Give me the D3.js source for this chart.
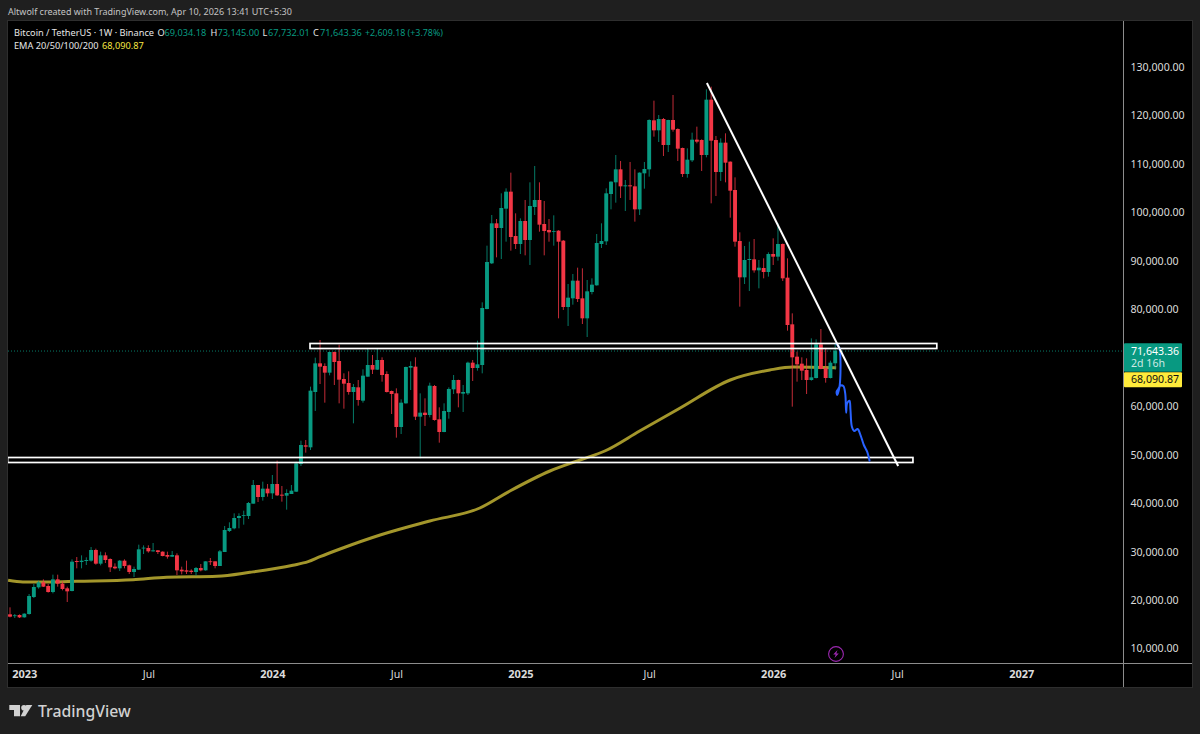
<!DOCTYPE html>
<html><head><meta charset="utf-8">
<script src="https://cdn.jsdelivr.net/npm/d3@7"></script>
<style>html,body{margin:0;padding:0;background:#1f1f1f;overflow:hidden}svg{display:block}text{font-family:"Noto Sans",sans-serif}</style>
</head><body><svg id="c" width="1200" height="734"></svg>
<script>
const opens=[17217,16873,17079,16597,17286,20794,22789,23821,23065,21826,24441,23546,22583,22033,28225,28018,28225,28293,30495,27674,29394,28637,27055,26711,28293,27330,25954,26436,30839,30908,30220,30426,30151,29463,29119,29394,26436,26298,26229,25954,26780,26298,28156,28156,27193,30082,34417,34967,37100,37581,37513,40058,43911,41434,43154,42191,44117,41916,41709,42053,42535,48245,52098,51685,63106,69023,68473,67097,71362,69505,65789,64964,63106,64069,61317,66271,68679,67716,69711,66821,63313,62831,55882,60767,68129,68335,58015,58841,58359,64345,57465,54850,58978,63657,65583,62762,62831,69161,68060,68679,80237,89663,97919,96956,100946,104455,95305,93653,98401,94479,101290,102735,97781,96543,96199,96405,94341,80650,82439,86085,82439,78311,83746,85122,93653,94204,103973,106381,109065,105556,105762,105556,100809,108239,109065,119178,117114,119453,114087,119247,117389,113468,108101,110922,115188,115119,112023,123444,115119,108514,114569,110647,104799,94273,86773,90351,90489,88218,88700,87874,91589,91039,93653,86704,77073,70399,68954,67647,65583,65996,72945,67991,65996,69034.18];
const highs=[18661,17286,17217,17423,21413,23477,24165,24441,23477,25404,25404,24028,22927,28569,29050,29394,28981,31114,30770,30151,30013,28775,27743,28431,28569,27468,27055,31596,31458,31458,31940,30495,30220,30151,30289,29807,27055,28293,26505,26986,27605,28156,28844,28156,30495,35449,36205,38063,38063,38613,40402,44943,43911,44599,44117,45975,48933,43705,43017,43911,48727,53061,53199,64207,70193,73839,69023,71450,71450,72876,66959,67372,64757,65583,67785,72188,70743,72119,70261,67372,63400,63863,61593,68350,69436,70261,62831,61799,65033,64551,59941,60767,64069,66615,65650,64551,69367,69711,73701,81613,93309,99639,98813,104111,105143,108377,99983,98951,102735,106381,109753,106381,102529,98813,99570,96500,94479,85397,87461,88769,88631,86223,86567,95717,97919,105143,106600,112023,110785,106863,110578,109065,108450,110578,119385,123237,120279,119660,119300,124407,117527,113550,113399,116633,117871,115257,125577,126127,115945,115463,116495,110700,107413,96061,93241,94135,94685,90351,90695,91933,94823,97919,93750,90695,79343,71431,70261,70055,74183,73977,76109,72119,69574,73145];
const lows=[16597,16460,16460,16529,17148,20588,22514,22858,21689,21551,22927,22170,19762,21964,26711,26711,27399,28087,27468,27330,27812,25954,26505,26161,26711,25541,24922,26367,29669,29945,30151,29669,29188,28706,29050,25335,25473,25541,25541,25197,26092,26229,27399,26711,27193,30082,34210,34761,34967,35724,36893,40058,40402,40677,41503,41021,41641,40471,38820,42053,42466,47833,50585,51135,59185,64757,60905,66546,64551,60767,59666,62556,56639,60285,60905,66271,66821,67647,65239,63000,58565,53681,54437,60700,63519,57327,49415,56089,57877,57189,52649,54800,57602,62693,59941,58978,62487,65377,67509,66959,80180,89525,90901,90557,94135,92277,92621,91589,91314,89319,99639,96199,91314,94135,93309,78311,80031,76729,81132,81682,77141,74458,83265,85060,92828,93447,100809,102185,103148,100465,102735,98263,99639,105074,107551,115807,114706,111817,112642,116839,110785,107482,107345,110578,114431,108721,111541,102047,103561,106657,106381,99089,93103,80719,85397,83953,87737,84503,86567,86911,89319,90213,86017,75765,60079,65239,65583,62693,65445,65900,67800,65033,65900,67732.01];
const closes=[16735,17010,16597,17354,20999,22858,23821,22927,21826,24441,23546,22445,21964,28087,28018,28293,28431,30495,27674,29394,28431,26917,26711,28293,27193,25954,26574,30633,30977,30220,30426,30082,29257,29119,29463,26298,26092,26023,25954,26780,26298,28156,28018,27193,30220,34623,35036,37100,37513,37719,40196,43911,41434,43154,42191,44117,41778,41709,42260,42741,48383,52167,51823,63381,69023,68335,67097,71362,69298,65652,64826,63106,64138,61455,66477,68679,67716,69711,66615,63106,62693,55882,60905,68266,68473,58015,58841,58359,64414,57327,54850,59185,63725,65583,62831,63106,69161,68060,68816,80444,89938,97919,96956,101084,104455,95098,93653,98401,94479,101497,102735,97644,96337,96061,96337,94135,80650,82577,86085,82301,78311,83884,85260,93860,94273,104111,106519,109065,105556,105762,105556,100809,108377,109133,119247,117114,119453,114087,119247,117252,113330,108101,111060,115188,114775,112023,123444,114981,108514,114569,110441,104661,94135,86773,90351,90557,88218,88769,87874,91589,91039,93653,86567,76935,70261,68817,67509,65583,66133,72945,67854,65996,69161,71643.36];

const emaWeek=[-0.4,2.7,8.4,14,25.8,32.9,43.4,50.3,59.3,62.5,65,69.2,77.6,88,98.5,104.8,113.2,119.5,124.7,132,140.5,151,159.3,164.2,173.2];
const emaPrice=[24241,23890,23890,24035,24365,24860,25067,25892,27337,28080,29112,30702,33591,36481,39164,42673,46801,49071,50929,55057,59804,65583,67647,68266,68091];

const scribbleWeek=[173.3,173.9,174.1,174.1,173.9,173.4,173.3,173.6,174.1,174.7,175.1,175.3,175.5,176,176.2,176.5,177,177.7,178.3,179,179.7,180.2];
const scribblePrice=[73014,72126,69711,66966,64200,62487,63168,63664,64407,64345,62838,58834,60774,61311,59391,55944,55057,55470,54231,52167,50784,48926];

const trendWeek=[146.1,186.2];
const trendPrice=[126884,47833];
const zoneStart=[62.9,-0.5];
const zoneEnd=[194.3,189.3];
const zoneTop=[73117,49587];
const zoneBottom=[72085,48555];

const priceTicks=[130000,120000,110000,100000,90000,80000,60000,50000,40000,30000,20000,10000];
const timeTickWeeks=[3,29,55,81,107,134,160,186,212];
const timeTickLabels=["2023","Jul","2024","Jul","2025","Jul","2026","Jul","2027"];
const lastClose=71643.36, lastEma=68090.87;
const UP="#089981", DOWN="#f23645", OLIVE="#a3962b";

const svg=d3.select("#c");
const L=8,R=1123.5,T=22,B=663.5,FR=1192,FB=687;
const x=d3.scaleLinear().domain([0,173]).range([10,835.2]);
const y=d3.scaleLinear().domain([50000,130000]).range([455.5,67.9]);

svg.append("rect").attr("x",L-.5).attr("y",T-1.5).attr("width",FR-L+1).attr("height",FB-T+2).attr("fill","#000").attr("stroke","#2e2e2e");
svg.append("defs").append("clipPath").attr("id","pane").append("rect").attr("x",L).attr("y",T).attr("width",R-L).attr("height",B-T);
const pane=svg.append("g").attr("clip-path","url(#pane)");

pane.append("path").attr("fill","none").attr("stroke",OLIVE).attr("stroke-width",3)
  .attr("d",d3.line().x((d,i)=>x(emaWeek[i])).y(d=>y(d)).curve(d3.curveMonotoneX)(emaPrice));

const idx=d3.range(opens.length);
const col=i=>closes[i]>=opens[i]?UP:DOWN;
pane.append("g").selectAll("line").data(idx).join("line")
  .attr("x1",i=>x(i)).attr("x2",i=>x(i)).attr("y1",i=>y(highs[i])).attr("y2",i=>y(lows[i]))
  .attr("stroke",col).attr("stroke-width",1).attr("stroke-opacity",.8);
pane.append("g").selectAll("rect").data(idx).join("rect")
  .attr("x",i=>x(i)-1.95).attr("width",3.9)
  .attr("y",i=>y(Math.max(opens[i],closes[i])))
  .attr("height",i=>Math.max(.8,Math.abs(y(opens[i])-y(closes[i]))))
  .attr("fill",col);

pane.append("line").attr("x1",L).attr("x2",R).attr("y1",y(lastClose)+.4).attr("y2",y(lastClose)+.4)
  .attr("stroke",UP).attr("stroke-width",1).attr("stroke-dasharray","1 2").attr("stroke-opacity",.8);

pane.append("g").selectAll("rect").data(zoneTop).join("rect")
  .attr("x",(d,i)=>x(zoneStart[i])).attr("width",(d,i)=>x(zoneEnd[i])-x(zoneStart[i]))
  .attr("y",d=>y(d)).attr("height",(d,i)=>y(zoneBottom[i])-y(d))
  .attr("fill","none").attr("stroke","#fff").attr("stroke-width",1.7);

pane.append("path").attr("fill","none").attr("stroke","#2962ff").attr("stroke-width",2).attr("stroke-linejoin","round").attr("stroke-linecap","round")
  .attr("d",d3.line().x((d,i)=>x(scribbleWeek[i])).y(d=>y(d)).curve(d3.curveCatmullRom)(scribblePrice));

pane.append("line").attr("x1",x(trendWeek[0])).attr("y1",y(trendPrice[0])).attr("x2",x(trendWeek[1])).attr("y2",y(trendPrice[1]))
  .attr("stroke","#fff").attr("stroke-width",2);

// axis frame lines
svg.append("line").attr("x1",R).attr("x2",R).attr("y1",T-1).attr("y2",FB).attr("stroke","#8c8c8c");
svg.append("line").attr("x1",L).attr("x2",FR).attr("y1",B).attr("y2",B).attr("stroke","#8c8c8c");

// axes
const fmt=d3.format(",.2f");
const yAxis=svg.append("g").attr("transform",`translate(${R},-0.8)`)
  .call(d3.axisRight(y).tickValues(priceTicks).tickFormat(fmt).tickSize(0).tickPadding(7));
yAxis.select(".domain").remove();
yAxis.selectAll("text").attr("fill","#dbdbdb").style("font-size","10.6px").style("font-family",'"Noto Sans",sans-serif');

const xAxis=svg.append("g").attr("transform",`translate(0,${B})`)
  .call(d3.axisBottom(x).tickValues(timeTickWeeks).tickFormat((d,i)=>timeTickLabels[i]).tickSize(0).tickPadding(7));
xAxis.select(".domain").remove();
xAxis.selectAll("text").attr("fill","#dbdbdb").style("font-family",'"Noto Sans",sans-serif')
  .style("font-size",(d,i)=>timeTickLabels[i]==="Jul"?"10.6px":"11px")
  .style("font-weight",(d,i)=>timeTickLabels[i]==="Jul"?400:700);

// header and legend
const t=(s,tx,ty,c,fs,w)=>svg.append("text").attr("x",tx).attr("y",ty).attr("fill",c).style("font-size",(fs||9.2)+"px").style("font-weight",w||400).text(s);
t("Altwolf created with TradingView.com, Apr 10, 2026 13:41 UTC+5:30",8,14.5,"#c4c4c4",9);
t("Bitcoin / TetherUS · 1W · Binance",14,35.5,"#e6e6e6");
t("O",157.5,35.5,"#e6e6e6"); t("69,034.18",164.5,35.5,UP);
t("H",210.5,35.5,"#e6e6e6"); t("73,145.00",217.5,35.5,UP);
t("L",262.5,35.5,"#e6e6e6"); t("67,732.01",268,35.5,UP);
t("C",313,35.5,"#e6e6e6"); t("71,643.36",320,35.5,UP);
t("+2,609.18 (+3.78%)",365,35.5,UP,8.9);
t("EMA 20/50/100/200",14,48.5,"#e6e6e6");
t("68,090.87",102,48.5,"#f5e642");

// price labels
const bx=svg.append("g");
bx.append("rect").attr("x",R+.5).attr("y",y(lastClose)-7.5).attr("width",58).attr("height",28.7).attr("fill",UP).attr("rx",1);
bx.append("rect").attr("x",R+.5).attr("y",y(lastEma)+4.3).attr("width",58).attr("height",15).attr("fill","#ffeb3b").attr("rx",1);
t("71,643.36",1131,354.5,"#fff",10.6);
t("2d 16h",1131,367.3,"#cfe9e4",10.6);
t("68,090.87",1131,383,"#111",10.6);

// bolt marker
const bolt=svg.append("g").attr("transform","translate(836,654)");
bolt.append("circle").attr("r",7.4).attr("fill","none").attr("stroke","#9c27b0").attr("stroke-width",1.1);
bolt.append("path").attr("d","M1.5,-4 L-2.8,0.6 L-0.3,0.6 L-1.5,4 L2.8,-0.6 L0.3,-0.6 Z").attr("fill","#9c27b0");

// logo
const lg=svg.append("g").attr("fill","#d1d1d1");
lg.append("path").attr("d","M9.3,705 H20 V716.3 H14 V710 H9.3 Z");
lg.append("circle").attr("cx",24).attr("cy",707.8).attr("r",2.8);
lg.append("path").attr("d","M26.3,705 H32.3 L25.2,716.3 H20.7 Z");
t("TradingView",38,717,"#d1d1d1",15.8,500);
</script></body></html>
